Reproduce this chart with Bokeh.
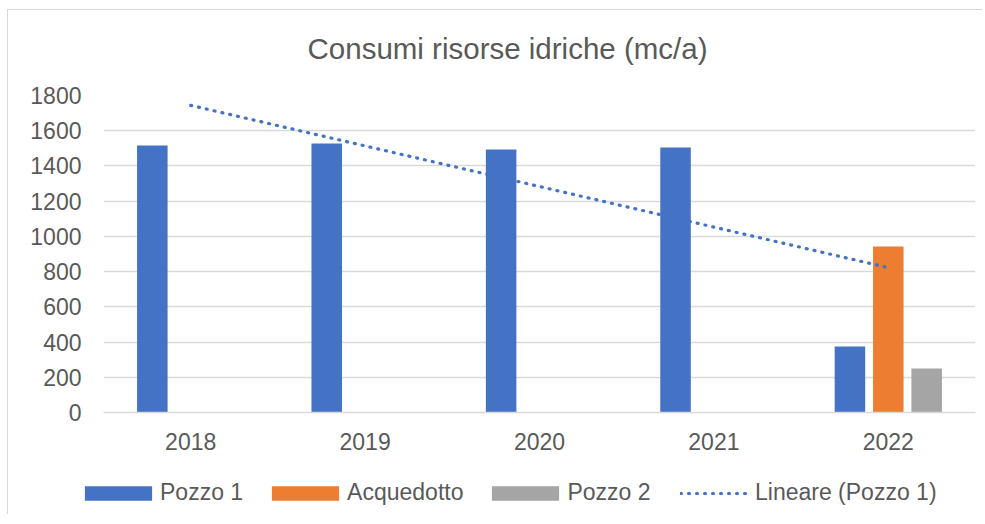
import numpy as np
from bokeh.plotting import figure
from bokeh.models import (FactorRange, Range1d, FixedTicker, Legend, LegendItem,
                          ColumnDataSource, Label)
from bokeh.transform import dodge
from bokeh.embed import file_html
from bokeh.resources import INLINE

years = ["2018", "2019", "2020", "2021", "2022"]
pozzo1 = [1516, 1527, 1493, 1505, 375]
acquedotto = [0, 0, 0, 0, 943]
pozzo2 = [0, 0, 0, 0, 250]
y_ticks = [0, 200, 400, 600, 800, 1000, 1200, 1400, 1600, 1800]
title_text = "Consumi risorse idriche (mc/a)"
series_names = ["Pozzo 1", "Acquedotto", "Pozzo 2", "Lineare (Pozzo 1)"]
series_colors = ["#4472C4", "#ED7D31", "#A5A5A5", "#4472C4"]

# Linear trend of Pozzo 1 (Excel "Lineare")
x_idx = np.arange(1, len(years) + 1)
slope, intercept = np.polyfit(x_idx, pozzo1, 1)
trend = list(slope * x_idx + intercept)

FONT = "Liberation Sans"
TXT = "#595959"
GRID = "#D9D9D9"
DASH = "1 7"
W = 975


def blank_fig(h, styles):
    f = figure(width=W, height=h, output_backend="svg", toolbar_location=None,
               x_range=Range1d(0, W), y_range=Range1d(0, h), min_border=0, title=None)
    f.styles = styles
    f.axis.visible = False
    f.grid.visible = False
    f.outline_line_color = None
    f.background_fill_color = "white"
    f.border_fill_color = "white"
    return f


# ---- title strip ----
tf = blank_fig(60, {"border-left": "1px solid #D9D9D9", "border-top": "1px solid #D9D9D9",
                    "margin-left": "7px", "margin-top": "9px"})
tf.add_layout(Label(x=499, y=22, x_units="screen", y_units="screen", text=title_text,
                    text_align="center", text_baseline="middle", text_font=FONT,
                    text_font_size="29.5px", text_color=TXT))

# ---- chart ----
src = ColumnDataSource(dict(year=years, p1=pozzo1, acq=acquedotto, p2=pozzo2))

p = figure(x_range=FactorRange(*years, range_padding=0), y_range=Range1d(0, 1800),
           width=W, height=395, output_backend="svg", toolbar_location=None,
           min_border_left=95, min_border_right=8, min_border_top=26, min_border_bottom=52,
           title=None)
p.styles = {"border-left": "1px solid #D9D9D9", "margin-left": "7px"}
p.outline_line_color = None
p.background_fill_color = "white"
p.border_fill_color = "white"

p.vbar(x=dodge("year", -0.22, range=p.x_range), top="p1", width=0.175, source=src,
       fill_color=series_colors[0], line_color=None)
p.vbar(x=dodge("year", 0.0, range=p.x_range), top="acq", width=0.175, source=src,
       fill_color=series_colors[1], line_color=None)
p.vbar(x=dodge("year", 0.22, range=p.x_range), top="p2", width=0.175, source=src,
       fill_color=series_colors[2], line_color=None)
p.line(x=years, y=trend, line_color=series_colors[3], line_width=3.2, line_dash=DASH,
       line_cap="round")

p.xgrid.grid_line_color = None
p.ygrid.grid_line_color = GRID
p.ygrid.grid_line_width = 1.5

p.yaxis.ticker = FixedTicker(ticks=y_ticks)
p.yaxis.axis_line_color = None
p.yaxis.major_tick_line_color = None
p.yaxis.minor_tick_line_color = None
p.yaxis.major_tick_out = 0
p.yaxis.major_tick_in = 0
p.yaxis.major_label_standoff = 22

p.xaxis.axis_line_color = GRID
p.xaxis.axis_line_width = 1.5
p.xaxis.major_tick_line_color = None
p.xaxis.minor_tick_line_color = None
p.xaxis.major_tick_out = 0
p.xaxis.major_tick_in = 0
p.xaxis.major_label_standoff = 20

for ax in (p.xaxis[0], p.yaxis[0]):
    ax.major_label_text_font = FONT
    ax.major_label_text_font_size = "23px"
    ax.major_label_text_color = TXT

# ---- legend strip ----
lf = blank_fig(50, {"border-left": "1px solid #D9D9D9", "margin-left": "7px"})

# one off-screen dummy point per renderer so that legend glyphs are drawn
dummy = ColumnDataSource(dict(x=[-1000], top=[-1000], y=[-1000]))
lr = []
for col in series_colors[:3]:
    lr.append(lf.vbar(x="x", top="top", width=1, source=dummy, fill_color=col, line_color=None))
lr.append(lf.line(x="x", y="y", source=dummy, line_color=series_colors[3], line_width=3.2,
                  line_dash=DASH, line_cap="round"))

common = dict(orientation="horizontal", padding=0, margin=0, border_line_color=None,
              background_fill_alpha=0, label_text_font=FONT, label_text_font_size="23px",
              label_text_color=TXT, label_height=23)

leg_bars = Legend(items=[LegendItem(label=n, renderers=[r])
                         for n, r in zip(series_names[:3], lr[:3])],
                  location=(68, 8), glyph_width=84, glyph_height=18, label_standoff=0,
                  spacing=20, **common)
leg_line = Legend(items=[LegendItem(label=series_names[3], renderers=[lr[3]])],
                  location=(672, 8), glyph_width=68, glyph_height=14, label_standoff=7,
                  spacing=0, **common)
lf.add_layout(leg_bars)
lf.add_layout(leg_line)

open("out.html", "w").write(file_html([tf, p, lf], INLINE))
